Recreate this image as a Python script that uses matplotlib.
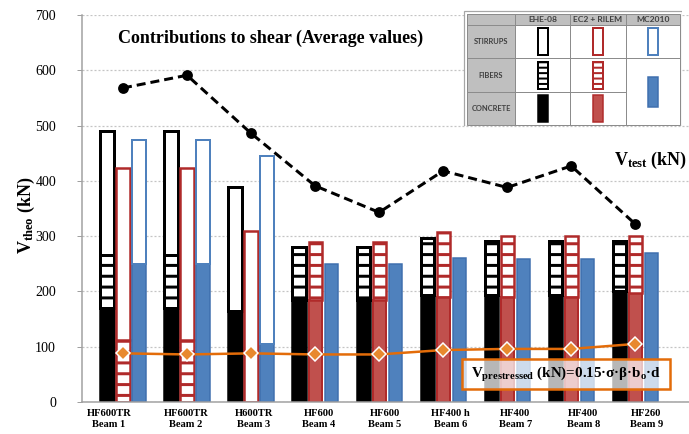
import numpy as np
import matplotlib
matplotlib.use("Agg")
import matplotlib.pyplot as plt
from matplotlib.patches import Rectangle

# ---------------- data ----------------
beam_names = ["HF600TR\nBeam 1", "HF600TR\nBeam 2", "H600TR\nBeam 3", "HF600\nBeam 4",
              "HF600\nBeam 5", "HF400 h\nBeam 6", "HF400\nBeam 7", "HF400\nBeam 8",
              "HF260\nBeam 9"]
# EHE-08 contributions (kN)
ehe_concrete = [170, 170, 165, 185, 185, 193, 194, 194, 200]
ehe_fibers = [95, 95, 0, 96, 96, 104, 98, 98, 91]
ehe_stirrups = [225, 225, 223, 0, 0, 0, 0, 0, 0]
# EC2 + RILEM contributions (kN)
ec2_concrete = [0, 0, 0, 184, 184, 190, 190, 190, 198]
ec2_fibers = [112, 112, 0, 105, 105, 117, 111, 111, 102]
ec2_stirrups = [311, 311, 310, 0, 0, 0, 0, 0, 0]
# MC2010 contributions (kN) - concrete + fibers combined
mc_conc_fib = [250, 250, 105, 250, 250, 261, 258, 258, 269]
mc_stirrups = [223, 223, 340, 0, 0, 0, 0, 0, 0]
# tests and prestressing
v_test = [568, 591, 486, 391, 343, 418, 388, 427, 322]
v_prestressed = [88, 86, 88, 86, 86, 94, 96, 96, 105]
y_ticks = [0, 100, 200, 300, 400, 500, 600, 700]

# ---------------- style ----------------
DPI = 130
def P(px):
    return px * 72.0 / DPI

plt.rcParams['font.family'] = ['Liberation Serif', 'DejaVu Serif']
plt.rcParams['mathtext.fontset'] = 'custom'
plt.rcParams['mathtext.rm'] = 'Liberation Serif:bold'
plt.rcParams['mathtext.bf'] = 'Liberation Serif:bold'
plt.rcParams['mathtext.it'] = 'Liberation Serif:bold:italic'
plt.rcParams['lines.scale_dashes'] = False
plt.rcParams['hatch.linewidth'] = P(3)

BLACK = '#000000'
RED_FILL = '#c0504d'
RED_EDGE = '#b02a2a'
BLUE_FILL = '#4f81bd'
BLUE_EDGE = '#3f6fae'
ORANGE = '#e36c09'

fig = plt.figure(figsize=(689 / DPI, 434 / DPI), dpi=DPI)
ax = fig.add_axes([82 / 689, 32 / 434, 607 / 689, 387 / 434])

x = np.arange(len(beam_names))
W = 0.205
OFF = 0.25


def set_hlw(p, lw):
    if hasattr(p, 'set_hatch_linewidth'):
        p.set_hatch_linewidth(lw)


def draw_segment(xpos, vals, bottoms, kind, edge, fill, lw):
    vals = np.asarray(vals, float)
    bottoms = np.asarray(bottoms, float)
    m = vals > 0
    if not m.any():
        return
    if kind == 'solid':
        ax.bar(xpos[m], vals[m], bottom=bottoms[m], width=W, color=fill,
               edgecolor=edge, linewidth=lw, zorder=2)
    elif kind == 'ladder':
        with plt.rc_context({'hatch.linewidth': P(3)}):
            bars = ax.bar(xpos[m], vals[m], bottom=bottoms[m], width=W, color='white',
                          edgecolor=edge, linewidth=lw, hatch='--', zorder=2)
        for p in bars.patches:
            set_hlw(p, P(3))
    else:
        ax.bar(xpos[m], vals[m], bottom=bottoms[m], width=W, color='white',
               edgecolor=edge, linewidth=lw, zorder=2)


# EHE-08 (black)
xb = x - OFF
draw_segment(xb, ehe_concrete, np.zeros(9), 'solid', BLACK, BLACK, P(2.5))
draw_segment(xb, ehe_fibers, ehe_concrete, 'ladder', BLACK, None, P(3))
draw_segment(xb, ehe_stirrups, np.add(ehe_concrete, ehe_fibers), 'white', BLACK, None, P(3))
# EC2 + RILEM (red)
xr = x
draw_segment(xr, ec2_concrete, np.zeros(9), 'solid', RED_EDGE, RED_FILL, P(2))
draw_segment(xr, ec2_fibers, ec2_concrete, 'ladder', RED_EDGE, None, P(2.5))
draw_segment(xr, ec2_stirrups, np.add(ec2_concrete, ec2_fibers), 'white', RED_EDGE, None, P(2.5))
# MC2010 (blue)
xu = x + OFF
draw_segment(xu, mc_conc_fib, np.zeros(9), 'solid', BLUE_EDGE, BLUE_FILL, P(1.5))
draw_segment(xu, mc_stirrups, mc_conc_fib, 'white', BLUE_FILL, None, P(2))

# lines
ax.plot(x, v_test, color='black', lw=P(3), linestyle=(0, (P(9), P(5))),
        marker='o', ms=P(9), zorder=4)
ax.plot(x, v_prestressed, color=ORANGE, lw=P(2.5), marker='D', ms=P(10),
        mfc='#e8892e', mec='white', mew=P(1.5), zorder=4)

# axes
ax.set_xlim(-0.64, 8.84)
ax.set_ylim(0, 700)
ax.set_yticks(y_ticks)
ax.yaxis.grid(True, color='#c4c4c4', linestyle=(0, (P(2), P(2))), lw=P(1.2))
ax.set_axisbelow(True)
for s in ['top', 'right']:
    ax.spines[s].set_visible(False)
for s in ['left', 'bottom']:
    ax.spines[s].set_color('#a0a0a0')
    ax.spines[s].set_linewidth(P(1.5))
ax.tick_params(axis='y', length=P(5), width=P(1), color='#a0a0a0', pad=P(21),
               labelsize=P(14))
label_offsets_px = np.array([-14, -1, 3, 4, 6, 7, 8, 12, 11])
ax.set_xticks(x + label_offsets_px / 64.0)
ax.set_xticklabels(beam_names, fontweight='bold', fontsize=P(10.5), linespacing=1.25)
ax.tick_params(axis='x', length=0, pad=P(7))

# texts
ax.text(0.311, 0.94, 'Contributions to shear (Average values)', transform=ax.transAxes,
        ha='center', va='center', fontsize=P(18), fontweight='bold')
ax.text(0.937, 0.625, r'V$_{\mathbf{test}}$ (kN)', transform=ax.transAxes,
        ha='center', va='center', fontsize=P(18), fontweight='bold')
fig.text(26 / 689, 1 - 215 / 434, r'V$_{\mathbf{theo}}$ (kN)', rotation=90,
         ha='center', va='center', fontsize=P(18), fontweight='bold')

# prestressed annotation box
ax.add_patch(Rectangle((0.626, 0.0336), 0.343, 0.0775, transform=ax.transAxes,
                       facecolor=(1, 1, 1, 0.72), edgecolor=ORANGE, lw=P(2.5), zorder=5))
ax.text(0.797, 0.072, r'V$_{\mathbf{prestressed}}$ (kN)=0.15·σ·β·b$_{\mathbf{o}}$·d',
        transform=ax.transAxes, ha='center', va='center', fontsize=P(15),
        fontweight='bold', zorder=6)

# ---------------- legend table ----------------
leg = fig.add_axes([463 / 689, 1 - 126 / 434, 219 / 689, 116 / 434])
leg.set_xlim(0, 219)
leg.set_ylim(116, 0)
leg.axis('off')
leg.add_patch(Rectangle((0.5, 0.5), 218, 115, facecolor='white', edgecolor='#a6a6a6', lw=P(1.2)))
GRAY = '#bfbfbf'
leg.add_patch(Rectangle((4, 4), 213, 11, facecolor=GRAY, edgecolor='none'))
leg.add_patch(Rectangle((4, 4), 48, 111, facecolor=GRAY, edgecolor='none'))
LC = '#8c8c8c'
leg.add_patch(Rectangle((4, 4), 213, 111, facecolor='none', edgecolor=LC, lw=P(1)))
for xv in [52, 107, 163]:
    leg.plot([xv, xv], [4, 115], color=LC, lw=P(1))
leg.plot([4, 217], [15, 15], color=LC, lw=P(1))
leg.plot([4, 217], [48, 48], color=LC, lw=P(1))
leg.plot([4, 163], [82, 82], color=LC, lw=P(1))

col_names = ['EHE-08', 'EC2 + RILEM', 'MC2010']
row_names = ['STIRRUPS', 'FIBERS', 'CONCRETE']
col_cx = [79.5, 135, 190]
row_cy = [31.5, 65, 98.5]
for cx, nm in zip(col_cx, col_names):
    leg.text(cx, 9.8, nm, ha='center', va='center', fontsize=P(8.5), fontweight='bold',
             family='Lato', color='#404040')
for cy, nm in zip(row_cy, row_names):
    leg.text(28, cy, nm, ha='center', va='center', fontsize=P(7.5), fontweight='bold',
             family='Lato', color='#404040')

GW, GH = 10, 27


def glyph(cx, cy, kind, edge, fill, h=GH):
    if kind == 'solid':
        r = Rectangle((cx - GW / 2, cy - h / 2), GW, h, facecolor=fill, edgecolor=edge, lw=P(1.5))
    elif kind == 'ladder':
        with plt.rc_context({'hatch.linewidth': P(2)}):
            r = Rectangle((cx - GW / 2, cy - h / 2), GW, h, facecolor='white', edgecolor=edge,
                          lw=P(2), hatch='----')
        set_hlw(r, P(2))
    else:
        r = Rectangle((cx - GW / 2, cy - h / 2), GW, h, facecolor='white', edgecolor=edge, lw=P(2))
    leg.add_patch(r)


glyph(col_cx[0], row_cy[0], 'white', BLACK, None)
glyph(col_cx[0], row_cy[1], 'ladder', BLACK, None)
glyph(col_cx[0], row_cy[2], 'solid', BLACK, BLACK)
glyph(col_cx[1], row_cy[0], 'white', RED_EDGE, None)
glyph(col_cx[1], row_cy[1], 'ladder', RED_EDGE, None)
glyph(col_cx[1], row_cy[2], 'solid', RED_EDGE, RED_FILL)
glyph(col_cx[2], row_cy[0], 'white', BLUE_FILL, None)
glyph(col_cx[2], (row_cy[1] + row_cy[2]) / 2, 'solid', BLUE_EDGE, BLUE_FILL, h=30)

fig.savefig('out.png', dpi=DPI)
